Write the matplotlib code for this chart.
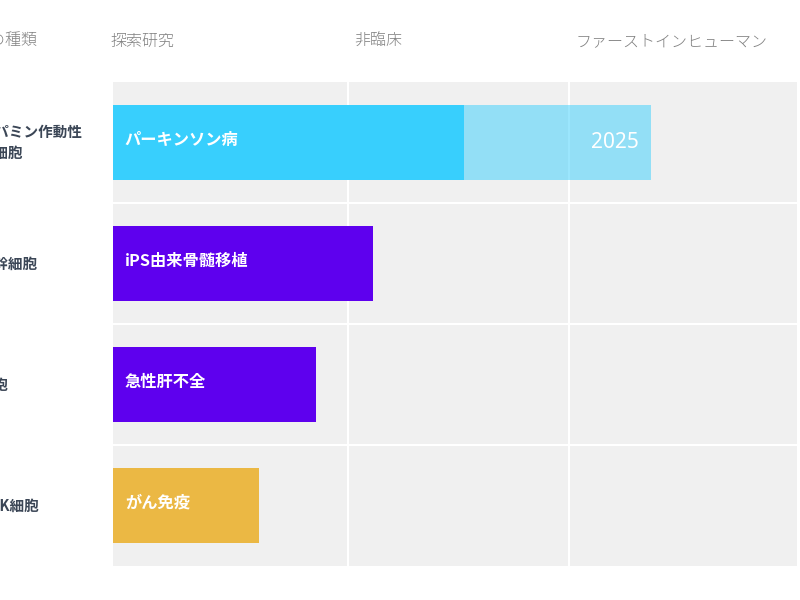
import matplotlib.pyplot as plt
from matplotlib.transforms import blended_transform_factory

plt.rcParams['font.family'] = ['Noto Sans CJK JP', 'DejaVu Sans']

# Data
stages = ["探索研究", "非臨床", "ファーストインヒューマン"]
stage_starts = [0, 1.03, 2.0]            # where each stage column begins
cell_types = ["ドーパミン作動性\n神経細胞", "造血幹細胞", "肝細胞", "iPSNK細胞"]
diseases = ["パーキンソン病", "iPS由来骨髄移植", "急性肝不全", "がん免疫"]
progress = [1.54, 1.14, 0.89, 0.64]      # current progress
target = [2.36, None, None, None]        # planned progress
target_labels = ["2025", None, None, None]
bar_colors = ["#38cffd", "#5e00ee", "#5e00ee", "#ebb844"]

fig = plt.figure(figsize=(8, 6), dpi=100)
ax = fig.add_axes([0.14125, 0.0567, 0.855, 0.8066])
ax.set_facecolor("#f0f0f0")

rows = list(range(len(cell_types)))

# planned extension (semi transparent)
for r in rows:
    if target[r] is not None:
        ax.barh(r, target[r], height=0.62, color=bar_colors[r], alpha=0.5,
                zorder=3, linewidth=0)
        ax.annotate(target_labels[r], xy=(target[r], r), xytext=(-9, 0),
                    textcoords="offset points", ha="right", va="center",
                    color="white", fontsize=15, family=["Noto Sans", "DejaVu Sans"],
                    zorder=5)

ax.barh(rows, progress, height=0.62, color=bar_colors, zorder=4, linewidth=0)

for r in rows:
    ax.annotate(diseases[r], xy=(0, r), xytext=(8.5, 2), textcoords="offset points",
                ha="left", va="center", color="white", fontsize=11.7,
                fontweight="bold", zorder=6)

# white separators
for b in stage_starts[1:]:
    ax.axvline(b, color="white", lw=1.5, zorder=2)
for b in [0.5, 1.5, 2.5]:
    ax.axhline(b, color="white", lw=1.5, zorder=2)

ax.set_xlim(0, 3)
ax.set_ylim(len(cell_types) - 0.5, -0.5)
ax.set_xticks([])
ax.set_yticks([])
for s in ax.spines.values():
    s.set_visible(False)

# column headers
for i, st in enumerate(stages):
    ax.annotate(st, xy=(stage_starts[i], 1), xycoords=("data", "axes fraction"),
                xytext=(4.5 if i else -2, 29), textcoords="offset points",
                ha="left", va="center", color="#808080", fontsize=11.5,
                fontweight="light")

# row labels (left column, partly outside the canvas)
lab_tr = blended_transform_factory(fig.transFigure, ax.transData)
fig.text(-43 / 800, 1 - 40 / 600, "細胞の種類", ha="left", va="center",
         color="#808080", fontsize=11.5, fontweight="light")
for r in rows:
    ax.text(-35 / 800, r, cell_types[r], transform=lab_tr, ha="left", va="center",
            color="#3b4656", fontsize=10.5, fontweight="bold", linespacing=1.35)

fig.savefig("out.png", dpi=100)
